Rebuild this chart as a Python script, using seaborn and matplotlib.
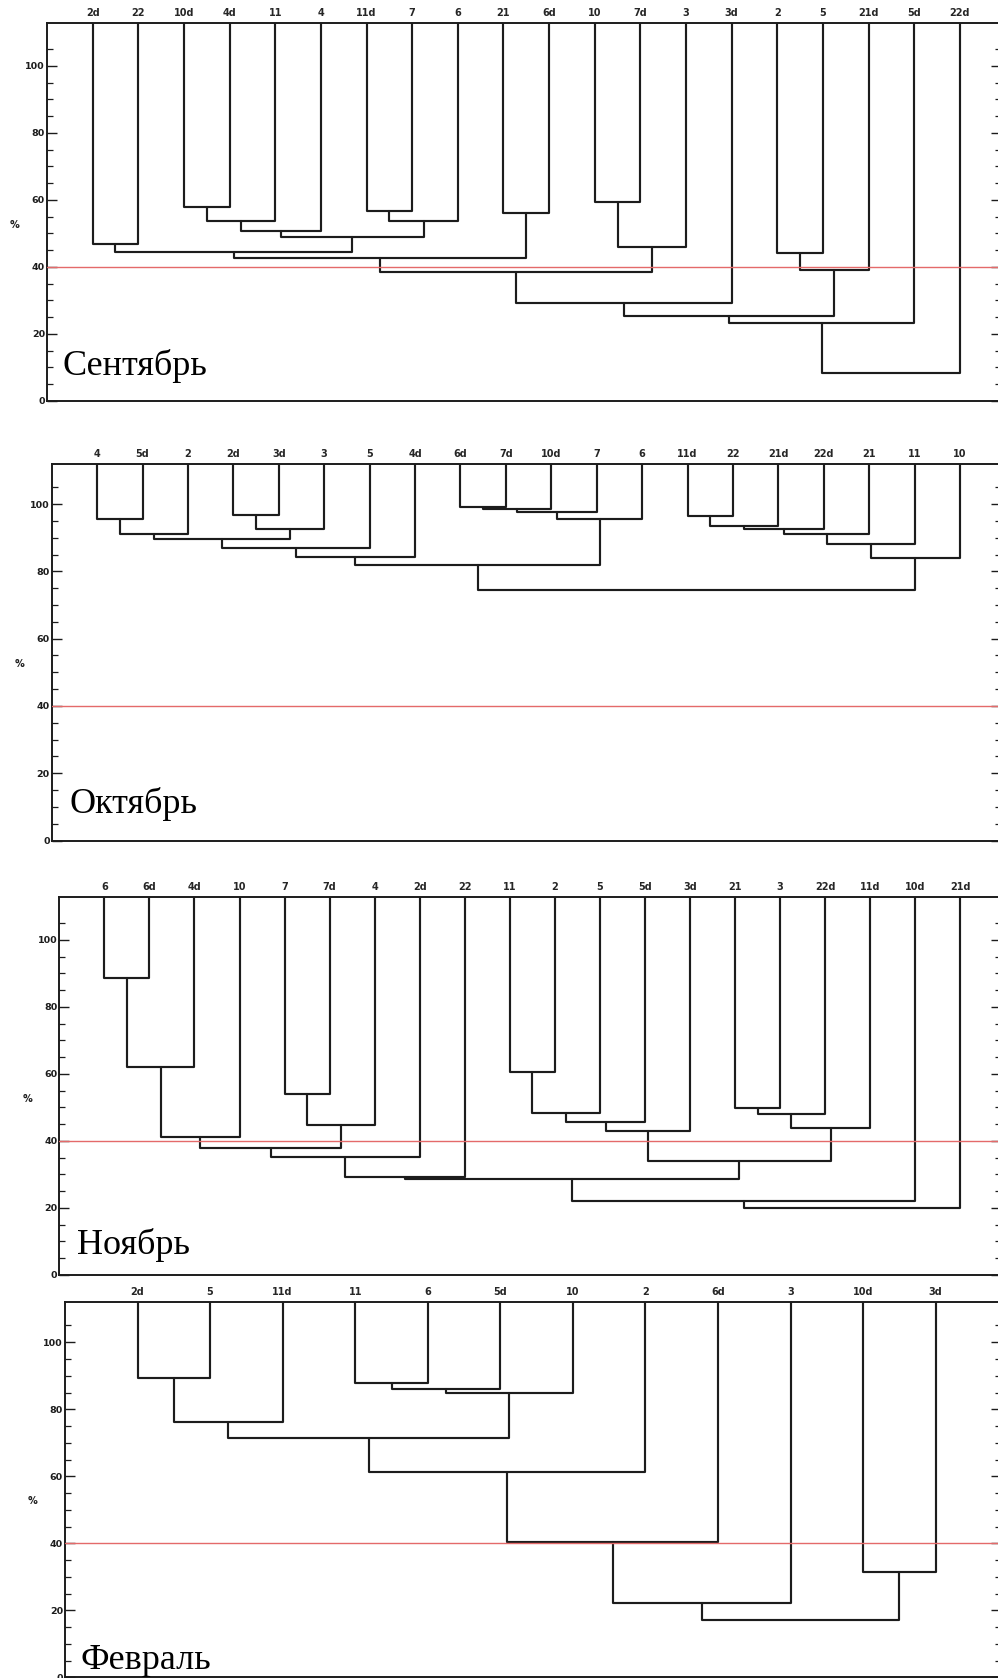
import matplotlib
matplotlib.use("Agg")
import matplotlib.pyplot as plt
from matplotlib.ticker import FixedLocator
from matplotlib.transforms import offset_copy
import pandas as pd
import seaborn as sns

# ---------------------------------------------------------------------------
# Cluster trees: leaf order and merges (child_a, child_b, similarity %).
# Child ids below the number of leaves are leaves; larger ids refer to
# earlier merges (same convention as a linkage matrix).
# ---------------------------------------------------------------------------
sep_leaves = ["2d", "22", "10d", "4d", "11", "4", "11d", "7", "6", "21",
              "6d", "10", "7d", "3", "3d", "2", "5", "21d", "5d", "22d"]
sep_links = [(0, 1, 46.8), (2, 3, 57.8), (21, 4, 53.8), (22, 5, 50.6),
             (6, 7, 56.7), (24, 8, 53.8), (23, 25, 49.0), (20, 26, 44.4),
             (9, 10, 56.2), (27, 28, 42.6), (11, 12, 59.3), (30, 13, 46.1),
             (29, 31, 38.6), (32, 14, 29.3), (15, 16, 44.1), (34, 17, 39.1),
             (33, 35, 25.4), (36, 18, 23.4), (37, 19, 8.4)]

oct_leaves = ["4", "5d", "2", "2d", "3d", "3", "5", "4d", "6d", "7d",
              "10d", "7", "6", "11d", "22", "21d", "22d", "21", "11", "10"]
oct_links = [(0, 1, 95.6), (20, 2, 91.2), (3, 4, 96.6), (22, 5, 92.7),
             (21, 23, 89.5), (24, 6, 86.9), (25, 7, 84.3), (8, 9, 99.2),
             (27, 10, 98.6), (28, 11, 97.7), (29, 12, 95.6), (26, 30, 82.0),
             (13, 14, 96.4), (32, 15, 93.4), (33, 16, 92.7), (34, 17, 91.2),
             (35, 18, 88.1), (36, 19, 84.1), (31, 37, 74.5)]

nov_leaves = ["6", "6d", "4d", "10", "7", "7d", "4", "2d", "22", "11",
              "2", "5", "5d", "3d", "21", "3", "22d", "11d", "10d", "21d"]
nov_links = [(0, 1, 88.5), (20, 2, 62.2), (21, 3, 41.1), (4, 5, 53.9),
             (23, 6, 44.8), (22, 24, 37.8), (25, 7, 35.1), (26, 8, 29.1),
             (9, 10, 60.5), (28, 11, 48.3), (29, 12, 45.8), (30, 13, 43.0),
             (14, 15, 49.8), (32, 16, 48.0), (33, 17, 43.8), (31, 34, 34.0),
             (27, 35, 28.6), (36, 18, 22.1), (37, 19, 19.9)]

feb_leaves = ["2d", "5", "11d", "11", "6", "5d", "10", "2", "6d", "3",
              "10d", "3d"]
feb_links = [(0, 1, 89.2), (12, 2, 76.3), (3, 4, 87.9), (14, 5, 86.1),
             (15, 6, 85.0), (13, 16, 71.3), (17, 7, 61.4), (18, 8, 40.5),
             (19, 9, 22.3), (10, 11, 31.4), (20, 21, 17.1)]

month_names = ["Сентябрь", "Октябрь", "Ноябрь", "Февраль"]
threshold = 40
y_major = [0, 20, 40, 60, 80, 100]
y_minor = list(range(0, 110, 5))

# ---------------------------------------------------------------------------
# Layout (pixels on a 998 x 1678 canvas)
# ---------------------------------------------------------------------------
W, H, DPI = 998, 1678, 100
RIGHT = 1001
# left, top, bottom, upper y-limit
boxes = [(47, 23, 401, 112.8), (51.7, 464, 840.6, 111.9),
         (59.3, 896.7, 1275, 112.9), (65, 1301.7, 1677.3, 112.1)]
name_pos = [(16, 7.8), (18, 8.3), (18, 6.2), (15, 2.4)]

sns.set_style("white")
plt.rcParams["font.family"] = ["DejaVu Sans"]

LINE = "#1c1c1c"


def link_paths(n, links, top):
    """Turn merges into U-shaped paths (one unit per merge)."""
    xs = {i: i + 1.0 for i in range(n)}
    ys = {i: top for i in range(n)}
    rows = []
    for k, (a, b, h) in enumerate(links):
        rows += [(k, 0, xs[a], ys[a]), (k, 1, xs[a], h),
                 (k, 2, xs[b], h), (k, 3, xs[b], ys[b])]
        xs[n + k] = (xs[a] + xs[b]) / 2.0
        ys[n + k] = h
    return pd.DataFrame(rows, columns=["link", "step", "x", "y"])


fig = plt.figure(figsize=(W / DPI, H / DPI), dpi=DPI)

panels = [(sep_leaves, sep_links), (oct_leaves, oct_links),
          (nov_leaves, nov_links), (feb_leaves, feb_links)]

for (leaves, links), (left, top, bot, ytop), name, (nx, ny) in zip(
        panels, boxes, month_names, name_pos):
    ax = fig.add_axes([left / W, 1 - bot / H, (RIGHT - left) / W, (bot - top) / H])
    n = len(leaves)
    df = link_paths(n, links, ytop)
    sns.lineplot(data=df, x="x", y="y", units="link", estimator=None,
                 sort=False, color=LINE, linewidth=1.55, legend=False, ax=ax)
    ax.axhline(threshold, color="#e46a6a", linewidth=1.0, zorder=5)

    ax.set_xlim(0, n + 0.9)
    ax.set_ylim(0, ytop)
    ax.set_xlabel("")
    ax.set_ylabel("")

    # leaf names along the top edge
    ax.xaxis.tick_top()
    ax.set_xticks([i + 1 for i in range(n)])
    ax.set_xticklabels(leaves, fontsize=7, fontweight="bold")
    ax.tick_params(axis="x", length=0, pad=3.5, top=True, bottom=False)

    ax.yaxis.set_major_locator(FixedLocator(y_major))
    ax.yaxis.set_minor_locator(FixedLocator(y_minor))
    ax.set_yticklabels([str(v) for v in y_major], fontsize=6.8, fontweight="bold")
    ax.tick_params(axis="y", which="both", direction="in", left=True,
                   right=True, colors=LINE, pad=1.5)
    ax.tick_params(axis="y", which="major", length=7, width=1.0)
    ax.tick_params(axis="y", which="minor", length=4.5, width=0.9)

    for s in ax.spines.values():
        s.set_color(LINE)
        s.set_linewidth(1.4)
        s.set_visible(True)

    ylab_tr = offset_copy(ax.get_yaxis_transform(), fig=fig, x=-32, y=0, units="dots")
    ax.text(0, 52.5, "%", transform=ylab_tr, ha="center", va="center",
            fontsize=7, fontweight="bold", color=LINE)

    name_tr = offset_copy(ax.get_yaxis_transform(), fig=fig, x=nx, y=0, units="dots")
    ax.text(0, ny, name, transform=name_tr, ha="left", va="baseline",
            fontsize=26, family=["Liberation Serif", "DejaVu Serif"],
            color="black", zorder=6)

fig.savefig("out.png", dpi=DPI)
